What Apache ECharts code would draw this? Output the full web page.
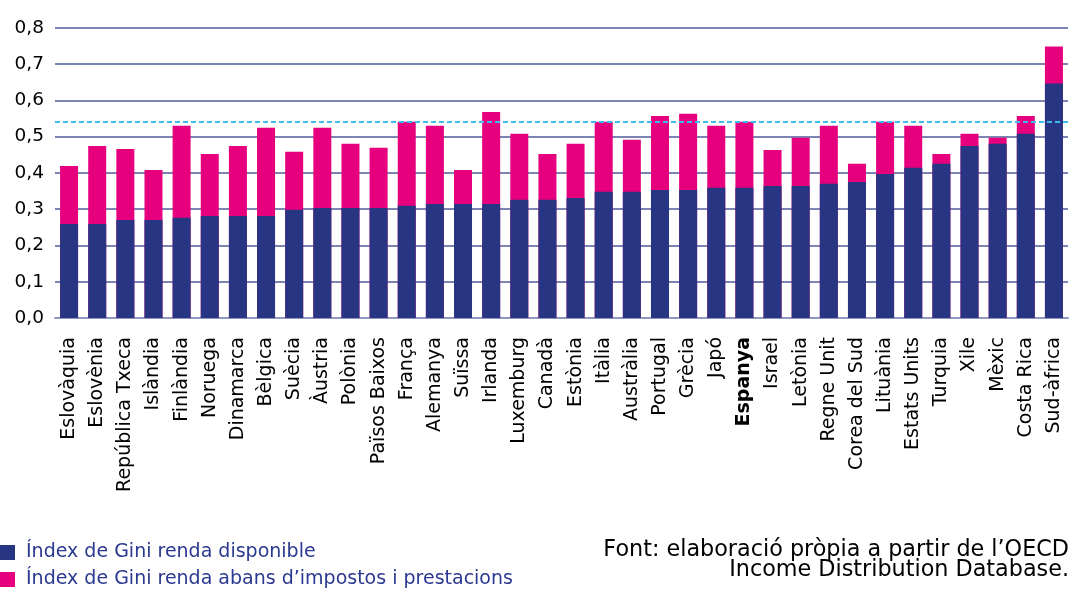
<!DOCTYPE html>
<html><head><meta charset="utf-8">
<script src="https://cdn.jsdelivr.net/npm/echarts@6/dist/echarts.min.js"></script>
<style>html,body{margin:0;padding:0;background:#fff}#c{width:1069px;height:590px}</style>
</head><body><div id="c"></div>
<script>
const categories = ['Eslovàquia','Eslovènia','República Txeca','Islàndia','Finlàndia','Noruega','Dinamarca','Bèlgica','Suècia','Àustria','Polònia','Països Baixos','França','Alemanya','Suïssa','Irlanda','Luxemburg','Canadà','Estònia','Itàlia','Austràlia','Portugal','Grècia','Japó','Espanya','Israel','Letònia','Regne Unit','Corea del Sud','Lituània','Estats Units','Turquia','Xile','Mèxic','Costa Rica','Sud-àfrica'];
const giniDisponible = [0.259,0.259,0.270,0.270,0.276,0.281,0.281,0.281,0.298,0.303,0.303,0.303,0.309,0.314,0.314,0.314,0.326,0.326,0.331,0.348,0.348,0.353,0.353,0.359,0.359,0.364,0.364,0.370,0.375,0.397,0.414,0.425,0.474,0.480,0.508,0.646];
const giniAbans = [0.419,0.474,0.466,0.408,0.530,0.452,0.474,0.524,0.458,0.524,0.480,0.469,0.541,0.530,0.408,0.568,0.508,0.452,0.480,0.541,0.491,0.557,0.563,0.530,0.541,0.463,0.497,0.530,0.425,0.541,0.530,0.452,0.508,0.497,0.557,0.748];
const referenceLine = 0.538;
const yTicks = ['0,0','0,1','0,2','0,3','0,4','0,5','0,6','0,7','0,8'];
const seriesNames = ['Índex de Gini renda disponible','Índex de Gini renda abans d’impostos i prestacions'];
const sourceLines = ['Font: elaboració pròpia a partir de l’OECD','Income Distribution Database.'];

const FONT = 'DejaVu Sans';
const legendCommon = {
  orient:'horizontal', left:0, padding:0,
  itemWidth:15, itemHeight:15, icon:'rect',
  textStyle:{color:'#2b3990', fontSize:19, fontFamily:FONT, padding:[0,0,0,6]}
};
const chart = echarts.init(document.getElementById('c'), null, {renderer:'canvas'});
chart.setOption({
  animation:false,
  textStyle:{fontFamily:FONT},
  grid:{left:55, right:1, top:27.7, height:290.3, containLabel:false},
  legend:[
    Object.assign({}, legendCommon, {top:543, data:[seriesNames[0]]}),
    Object.assign({}, legendCommon, {top:570, data:[seriesNames[1]]})
  ],
  graphic:[
    {type:'text', right:0, top:539, style:{text:sourceLines[0], fill:'#000', font:'22.3px "DejaVu Sans"'}},
    {type:'text', right:0, top:559, style:{text:sourceLines[1], fill:'#000', font:'22.3px "DejaVu Sans"'}}
  ],
  xAxis:{
    type:'category', data:categories,
    axisTick:{show:false},
    axisLine:{show:true, lineStyle:{color:'#8f98c0', width:2}},
    axisLabel:{rotate:90, interval:0, margin:19, color:'#000', fontSize:19, fontFamily:FONT,
      formatter:v => v==='Espanya' ? '{b|'+v+'}' : v,
      rich:{b:{fontWeight:'bold', fontSize:19, fontFamily:FONT, color:'#000'}}}
  },
  yAxis:{
    type:'value', min:0, max:0.8, interval:0.1,
    axisLine:{show:false}, axisTick:{show:false},
    axisLabel:{margin:11, color:'#000', fontSize:18.5, fontFamily:FONT,
      formatter:v => yTicks[Math.round(v*10)]},
    splitLine:{lineStyle:{color:'#4f5b98', width:1.5}}
  },
  series:[
    {name:seriesNames[1], type:'bar', data:giniAbans, barWidth:18, barGap:'-100%',
      itemStyle:{color:'#e6007e'},
      markLine:{silent:true, symbol:'none', label:{show:false},
        lineStyle:{color:'#3dbbec', type:[5,3], width:2},
        data:[{yAxis:referenceLine}]}},
    {name:seriesNames[0], type:'bar', data:giniDisponible, barWidth:18, barGap:'-100%',
      itemStyle:{color:'#283583'}}
  ]
});
</script></body></html>
